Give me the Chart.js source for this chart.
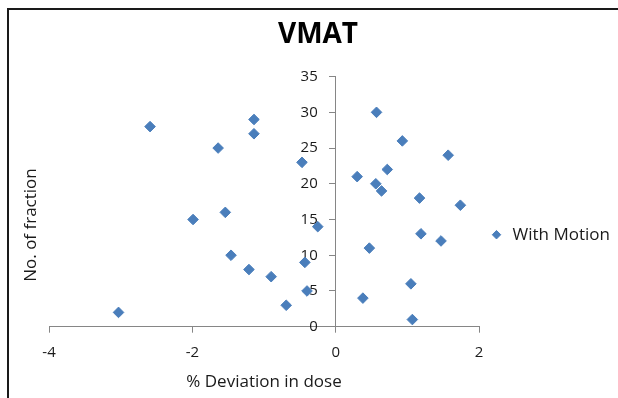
<!DOCTYPE html>
<html>
<head>
<meta charset="utf-8">
<script src="https://cdn.jsdelivr.net/npm/chart.js@4.4.1/dist/chart.umd.min.js"></script>
<style>
  html, body { margin: 0; padding: 0; background: #fff; overflow: hidden; }
  #wrap { position: relative; width: 618px; height: 398px; }
  #wrap canvas { position: absolute; left: 0; top: 0; }
  #frame {
    position: absolute; left: 7px; top: 8px; width: 700px; height: 500px;
    border-left: 2px solid #1a1a1a; border-top: 2px solid #1a1a1a;
    pointer-events: none;
  }
</style>
</head>
<body>
<div id="wrap">
  <canvas id="chart" width="618" height="398"></canvas>
  <div id="frame"></div>
</div>
<script>
// chart texts
const chartTitle = 'VMAT';
const seriesName = 'With Motion';
const xAxisTitle = '% Deviation in dose';
const yAxisTitle = 'No. of fraction';

// fraction number (y) and dose deviation in % (x)
const fraction = [1, 2, 3, 4, 5, 6, 7, 8, 9, 10,
                  11, 12, 13, 14, 15, 16, 17, 18, 19, 20,
                  21, 22, 23, 24, 25, 26, 27, 28, 29, 30];
const deviation = [1.07, -3.03, -0.69, 0.38, -0.40, 1.05, -0.90, -1.21, -0.43, -1.46,
                   0.47, 1.47, 1.19, -0.25, -1.99, -1.54, 1.74, 1.17, 0.64, 0.56,
                   0.30, 0.72, -0.47, 1.57, -1.64, 0.93, -1.14, -2.59, -1.14, 0.57];

// axis ticks
const xTicks = [-4, -2, 0, 2];
const yTicks = [0, 5, 10, 15, 20, 25, 30, 35];

const FONT = "'Open Sans', 'DejaVu Sans', sans-serif";
const AXIS_GREY = '#868686';
const TEXT = '#1a1a1a';
const MARKER = '#4A7EBB';

const points = deviation.map((d, i) => ({x: d, y: fraction[i]}));

// the y title sits a bit below the plot centre, so it is drawn by hand
const yTitlePlugin = {
    id: 'yTitle',
    afterDraw(chart) {
        const ctx = chart.ctx;
        ctx.save();
        ctx.translate(31, 225);
        ctx.rotate(-Math.PI / 2);
        ctx.font = '17px ' + FONT;
        ctx.fillStyle = TEXT;
        ctx.textAlign = 'center';
        ctx.textBaseline = 'middle';
        ctx.fillText(yAxisTitle, 0, 0);
        ctx.restore();
    }
};

const setTicks = list => scale => {
    scale.ticks = list.map(v => ({value: v}));
};

new Chart(document.getElementById('chart'), {
    type: 'scatter',
    data: {
        datasets: [{
            label: seriesName,
            data: points,
            xAxisID: 'x',
            yAxisID: 'y',
            pointStyle: 'rectRot',
            pointRadius: 5.3,
            pointHoverRadius: 5.3,
            borderWidth: 1,
            backgroundColor: MARKER,
            borderColor: MARKER
        }]
    },
    options: {
        responsive: false,
        animation: false,
        devicePixelRatio: 1,
        layout: {
            padding: {left: 26, right: 8, top: 0, bottom: 0}
        },
        plugins: {
            tooltip: {enabled: false},
            title: {
                display: true,
                text: chartTitle,
                color: '#000',
                font: {family: FONT, size: 28, weight: 'bold'},
                padding: {top: 18, bottom: 25}
            },
            legend: {
                position: 'right',
                maxWidth: 131,
                title: {
                    display: true,
                    text: '',
                    font: {size: 12},
                    padding: {top: 0, bottom: 57}
                },
                labels: {
                    usePointStyle: true,
                    boxWidth: 15,
                    boxHeight: 6,
                    padding: 10,
                    color: TEXT,
                    font: {family: FONT, size: 17}
                }
            }
        },
        scales: {
            x: {
                type: 'linear',
                position: 'bottom',
                min: xTicks[0],
                max: xTicks[xTicks.length - 1],
                afterBuildTicks: setTicks(xTicks),
                afterFit(scale) { scale.height = 71.3; },
                grid: {display: true, drawOnChartArea: false, drawTicks: true, tickLength: 6, color: AXIS_GREY},
                border: {display: true, color: AXIS_GREY, width: 1},
                ticks: {color: TEXT, padding: 11, font: {family: FONT, size: 15}},
                title: {
                    display: true,
                    text: xAxisTitle,
                    color: TEXT,
                    font: {family: FONT, size: 17},
                    padding: {top: 0, bottom: 6}
                }
            },
            // empty box on the left that keeps room for the y title
            yPad: {
                type: 'linear',
                axis: 'y',
                position: 'left',
                afterFit(scale) { scale.width = 23; },
                grid: {display: false},
                border: {display: false},
                ticks: {display: false}
            },
            // axis line and tick marks through x = 0
            y: {
                type: 'linear',
                position: {x: 0},
                min: yTicks[0],
                max: yTicks[yTicks.length - 1],
                afterBuildTicks: setTicks(yTicks),
                grid: {display: true, drawOnChartArea: false, drawTicks: true, tickLength: 6, color: AXIS_GREY},
                border: {display: true, color: AXIS_GREY, width: 1},
                ticks: {display: false}
            },
            // tick labels, set a little left of the axis line
            yLabels: {
                type: 'linear',
                axis: 'y',
                position: {x: -0.25},
                min: yTicks[0],
                max: yTicks[yTicks.length - 1],
                afterBuildTicks: setTicks(yTicks),
                grid: {display: false},
                border: {display: false},
                ticks: {color: TEXT, font: {family: FONT, size: 15}}
            }
        }
    },
    plugins: [yTitlePlugin]
});
</script>
</body>
</html>
